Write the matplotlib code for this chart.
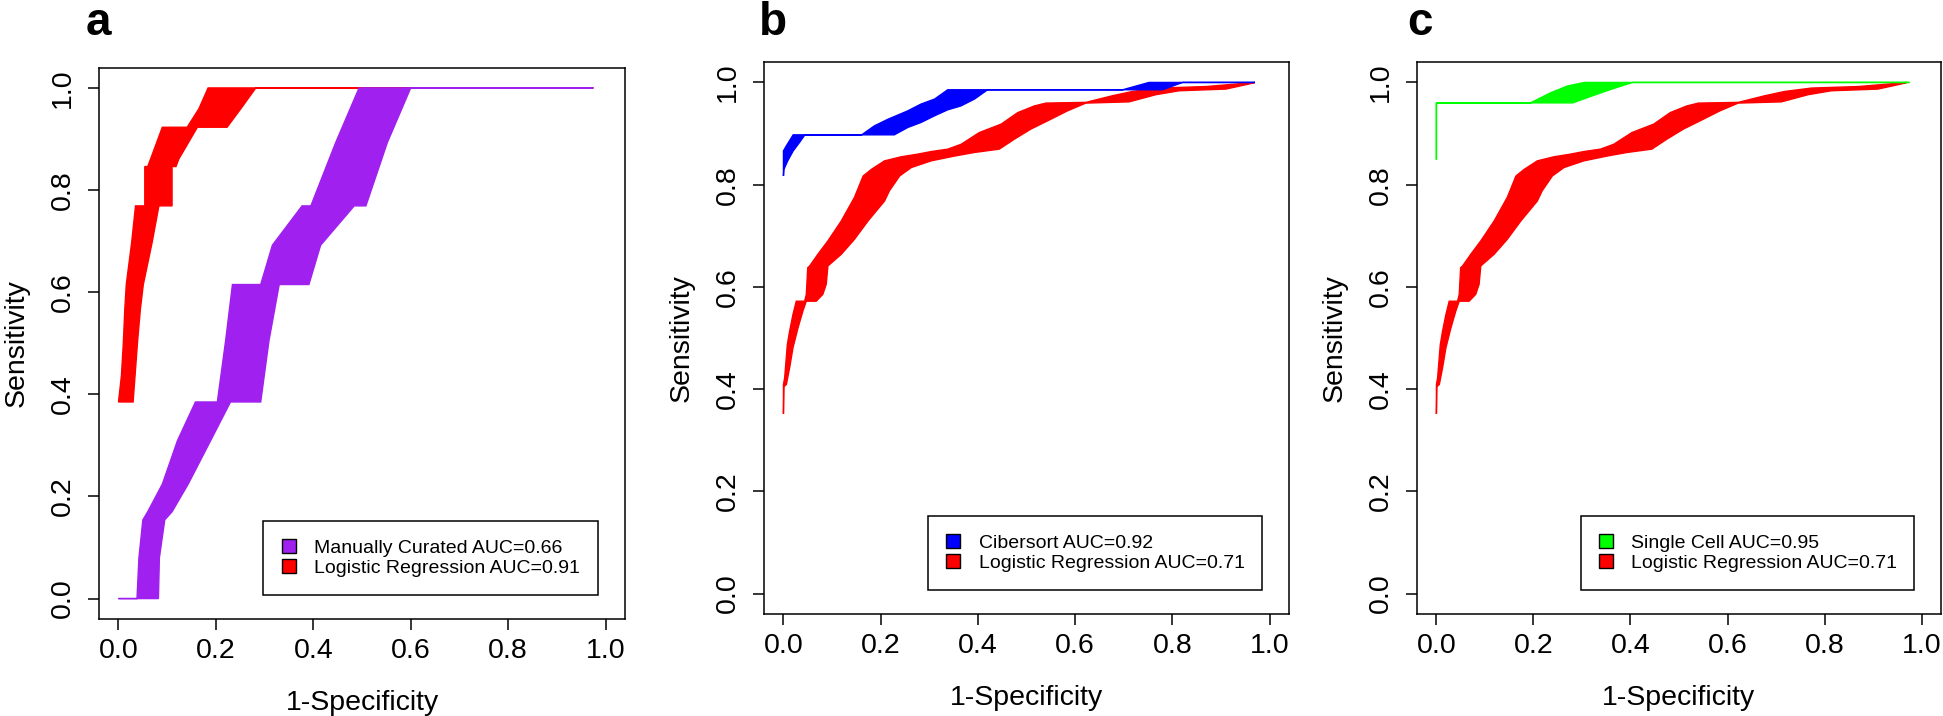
"""ROC confidence bands for three classifiers against logistic regression."""

import matplotlib.pyplot as plt
from matplotlib.patches import Patch

plt.rcParams["font.family"] = ["Liberation Sans", "DejaVu Sans"]

# Panel a, logistic regression band: left / right edge of the 1-specificity CI per sensitivity
a_lr_left_sens = [0.385, 0.436, 0.501, 0.567, 0.615, 0.697, 0.769, 0.769, 0.846, 0.846, 0.861, 0.923, 0.923, 0.959, 1.0]
a_lr_left_fpr = [0.0, 0.006, 0.010, 0.013, 0.016, 0.027, 0.035, 0.054, 0.054, 0.060, 0.066, 0.090, 0.141, 0.165, 0.184]
a_lr_right_sens = [0.385, 0.385, 0.436, 0.501, 0.567, 0.615, 0.697, 0.769, 0.769, 0.846, 0.846, 0.861, 0.923, 0.923, 0.959, 1.0, 1.0]
a_lr_right_fpr = [0.0, 0.030, 0.034, 0.039, 0.045, 0.051, 0.069, 0.083, 0.110, 0.110, 0.118, 0.124, 0.162, 0.223, 0.251, 0.282, 0.975]

# Panel a, manually curated band
a_mc_left_sens = [0.0, 0.0, 0.08, 0.154, 0.17, 0.224, 0.309, 0.385, 0.385, 0.505, 0.615, 0.615, 0.692, 0.769, 0.769, 0.893, 1.0]
a_mc_left_fpr = [0.0, 0.038, 0.042, 0.050, 0.060, 0.090, 0.121, 0.158, 0.203, 0.220, 0.234, 0.292, 0.316, 0.377, 0.395, 0.446, 0.494]
a_mc_right_sens = [0.0, 0.0, 0.08, 0.154, 0.17, 0.224, 0.309, 0.385, 0.385, 0.505, 0.615, 0.615, 0.692, 0.769, 0.769, 0.893, 1.0, 1.0]
a_mc_right_fpr = [0.0, 0.082, 0.084, 0.095, 0.110, 0.143, 0.189, 0.230, 0.292, 0.309, 0.330, 0.391, 0.415, 0.484, 0.508, 0.552, 0.600, 0.975]

# Panels b and c, logistic regression band (same model in both)
lr_left_sens = [0.3515, 0.409, 0.422, 0.487, 0.5135, 0.546, 0.572, 0.572, 0.585, 0.6375, 0.641, 0.664, 0.690,
                0.729, 0.775, 0.817, 0.830, 0.8466, 0.8545, 0.8597, 0.8648, 0.8695, 0.879, 0.902, 0.9185,
                0.941, 0.954, 0.9596, 0.961, 0.974, 0.9824, 0.989, 0.992, 1.0]
lr_left_fpr = [0.0, 0.0, 0.0025, 0.008, 0.0127, 0.0196, 0.0264, 0.0436, 0.047, 0.050, 0.054, 0.071, 0.0915,
               0.119, 0.146, 0.164, 0.181, 0.208, 0.242, 0.276, 0.304, 0.338, 0.3655, 0.403, 0.448,
               0.482, 0.516, 0.540, 0.622, 0.677, 0.718, 0.773, 0.870, 0.970]
lr_right_sens = [0.3515, 0.405, 0.409, 0.4416, 0.4808, 0.520, 0.5527, 0.572, 0.572, 0.5854, 0.605, 0.641,
                 0.6638, 0.693, 0.729, 0.768, 0.788, 0.817, 0.8335, 0.8466, 0.856, 0.863, 0.8695, 0.889,
                 0.9087, 0.928, 0.9445, 0.9596, 0.962, 0.976, 0.9837, 0.987, 0.997, 1.0]
lr_right_fpr = [0.0, 0.001, 0.006, 0.0127, 0.0196, 0.030, 0.040, 0.047, 0.0675, 0.081, 0.088, 0.0915,
                0.119, 0.146, 0.174, 0.208, 0.218, 0.239, 0.263, 0.304, 0.352, 0.393, 0.444, 0.475,
                0.509, 0.550, 0.5845, 0.622, 0.711, 0.766, 0.814, 0.910, 0.958, 0.970]

# Panel b, Cibersort band
cib_left_sens = [0.817, 0.866, 0.876, 0.8975, 0.8975, 0.915, 0.928, 0.9445, 0.9577, 0.9675, 0.9857, 0.9857, 1.0]
cib_left_fpr = [0.0, 0.0, 0.006, 0.020, 0.161, 0.187, 0.215, 0.256, 0.283, 0.311, 0.338, 0.698, 0.752]
cib_right_sens = [0.817, 0.83, 0.847, 0.866, 0.8825, 0.8975, 0.8975, 0.912, 0.9217, 0.9348, 0.9465, 0.954,
                  0.9675, 0.9857, 0.9857, 1.0, 1.0]
cib_right_fpr = [0.0, 0.001, 0.009, 0.020, 0.033, 0.044, 0.228, 0.256, 0.283, 0.311, 0.338, 0.365,
                 0.393, 0.420, 0.780, 0.821, 0.970]

# Panel c, single cell band
sc_left_sens = [0.849, 0.960, 0.960, 0.980, 0.993, 1.0]
sc_left_fpr = [0.0, 0.0, 0.194, 0.236, 0.270, 0.305]
sc_right_sens = [0.849, 0.960, 0.960, 0.973, 0.9865, 1.0, 1.0]
sc_right_fpr = [0.0, 0.0, 0.281, 0.319, 0.360, 0.404, 0.975]

ticks = [0.0, 0.2, 0.4, 0.6, 0.8, 1.0]
FS = 20.5


def _band(ax, left_fpr, left_sens, right_fpr, right_sens, color):
    xs = list(left_fpr) + list(right_fpr)[::-1]
    ys = list(left_sens) + list(right_sens)[::-1]
    ax.fill(xs, ys, facecolor=color, edgecolor=color, linewidth=1.0)


def _panel(fig, rect, letter, letter_x, bands, labels, colors):
    ax = fig.add_axes(rect)
    for band, color in zip(bands, colors):
        _band(ax, *band, color)

    ax.set_xlim(-0.04, 1.04)
    ax.set_ylim(-0.04, 1.04)
    ax.set_xticks(ticks)
    ax.set_yticks(ticks)
    ax.set_xticklabels([f"{t:.1f}" for t in ticks])
    ax.set_yticklabels([f"{t:.1f}" for t in ticks])
    ax.tick_params(length=8, width=1.1, labelsize=FS, pad=6)
    ax.tick_params(axis="y", pad=9)
    plt.setp(ax.get_yticklabels(), rotation=90, va="center")
    for s in ax.spines.values():
        s.set_linewidth(1.1)
    ax.set_xlabel("1-Specificity", fontsize=FS, labelpad=18.5)
    ax.set_ylabel("Sensitivity", fontsize=FS, labelpad=14)

    # legend order is the reverse of drawing order (reference lists the other model first)
    handles = [Patch(facecolor=c, edgecolor="black", linewidth=1.0) for c in colors[::-1]]
    leg = ax.legend(
        handles, labels, loc="lower left", mode="expand",
        bbox_to_anchor=(0.297, 0.007, 0.688, 0.141), bbox_transform=ax.transData,
        fontsize=14, handlelength=0.72, handleheight=0.7, handletextpad=0.95,
        borderpad=0.95, labelspacing=0.1, borderaxespad=0, fancybox=False,
        framealpha=1, edgecolor="black",
    )
    leg.get_frame().set_linewidth(1.1)

    fig.text(letter_x / 1943, 1 - 35 / 716, letter, fontsize=33, fontweight="bold",
             va="baseline", ha="left")
    return ax


fig = plt.figure(figsize=(19.43, 7.16), dpi=100)

lr_a = (a_lr_left_fpr, a_lr_left_sens, a_lr_right_fpr, a_lr_right_sens)
mc_a = (a_mc_left_fpr, a_mc_left_sens, a_mc_right_fpr, a_mc_right_sens)
lr_bc = (lr_left_fpr, lr_left_sens, lr_right_fpr, lr_right_sens)
cib = (cib_left_fpr, cib_left_sens, cib_right_fpr, cib_right_sens)
sc = (sc_left_fpr, sc_left_sens, sc_right_fpr, sc_right_sens)

_panel(fig, [99 / 1943, 97 / 716, 526 / 1943, 551.5 / 716], "a", 86,
       [lr_a, mc_a], ["Manually Curated AUC=0.66", "Logistic Regression AUC=0.91"],
       ["#FF0000", "#A020F0"])
_panel(fig, [764 / 1943, 102 / 716, 525 / 1943, 552 / 716], "b", 759,
       [lr_bc, cib], ["Cibersort AUC=0.92", "Logistic Regression AUC=0.71"],
       ["#FF0000", "#0000FF"])
_panel(fig, [1417 / 1943, 102 / 716, 524 / 1943, 552 / 716], "c", 1407,
       [lr_bc, sc], ["Single Cell AUC=0.95", "Logistic Regression AUC=0.71"],
       ["#FF0000", "#00FF00"])

fig.savefig("out.png", dpi=100)
